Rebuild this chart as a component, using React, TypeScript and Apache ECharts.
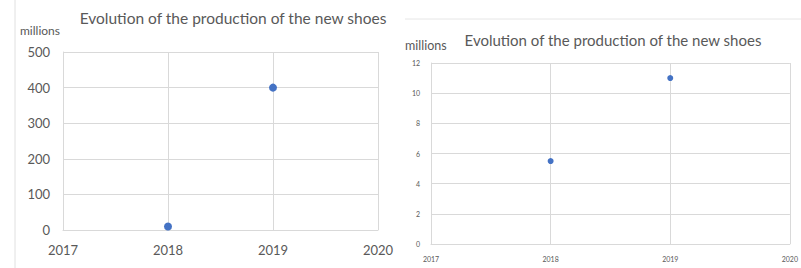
import React, { useEffect, useRef } from "react";
import * as echarts from "echarts";

const titleText = "Evolution of the production of the new shoes";
const unitText = "millions";
const years = [2018, 2019];
const leftValues = [10, 400];
const rightValues = [5.5, 11];

const FONT = "Lato, 'Open Sans', sans-serif";
const GREY = "#595959";
const GRID = "#d9d9d9";
const BLUE = "#4472c4";

export default function App() {
  const ref = useRef<HTMLDivElement>(null);
  useEffect(() => {
    if (!ref.current) return;
    const chart = echarts.init(ref.current, undefined, { renderer: "svg" });
    const axisCommon = (fs: number, margin: number) => ({
      axisLine: { show: true, lineStyle: { color: GRID } },
      axisTick: { show: false },
      splitLine: { show: true, lineStyle: { color: GRID, width: 1 } },
      axisLabel: {
        color: GREY,
        fontSize: fs,
        fontFamily: FONT,
        margin,
        formatter: (v: number) => String(v),
      },
    });
    chart.setOption({
      animation: false,
      backgroundColor: "#ffffff",
      grid: [
        { left: 63, top: 52, width: 315, height: 178 },
        { left: 431, top: 63, width: 366, height: 181 },
      ],
      xAxis: [
        { type: "value", gridIndex: 0, min: 2017, max: 2020, interval: 1, ...axisCommon(13, 13) },
        { type: "value", gridIndex: 1, min: 2017, max: 2020, interval: 1, ...axisCommon(7, 11) },
      ],
      yAxis: [
        { type: "value", gridIndex: 0, min: 0, max: 500, interval: 100, ...axisCommon(13, 13) },
        { type: "value", gridIndex: 1, min: 0, max: 12, interval: 2, ...axisCommon(7, 11) },
      ],
      series: [
        {
          type: "scatter",
          xAxisIndex: 0,
          yAxisIndex: 0,
          symbolSize: 8,
          itemStyle: { color: BLUE, opacity: 1 },
          data: years.map((y, i) => [y, leftValues[i]]),
        },
        {
          type: "scatter",
          xAxisIndex: 1,
          yAxisIndex: 1,
          symbolSize: 6,
          itemStyle: { color: BLUE, opacity: 1 },
          data: years.map((y, i) => [y, rightValues[i]]),
        },
      ],
      graphic: [
        { type: "line", shape: { x1: 15, y1: 0, x2: 15, y2: 268 }, style: { stroke: "#e0e0e0", lineWidth: 1 } },
        { type: "line", shape: { x1: 405, y1: 19, x2: 801, y2: 19 }, style: { stroke: "#e6e6e6", lineWidth: 1 } },
        {
          type: "text",
          x: 233,
          y: 18,
          style: { text: titleText, fill: GREY, font: `15.5px ${FONT}`, textAlign: "center", textVerticalAlign: "middle" },
        },
        {
          type: "text",
          x: 20,
          y: 30,
          style: { text: unitText, fill: GREY, font: `12px ${FONT}`, textAlign: "left", textVerticalAlign: "middle" },
        },
        {
          type: "text",
          x: 613,
          y: 40,
          style: { text: titleText, fill: GREY, font: `15px ${FONT}`, textAlign: "center", textVerticalAlign: "middle" },
        },
        {
          type: "text",
          x: 405,
          y: 45,
          style: { text: unitText, fill: GREY, font: `12.5px ${FONT}`, textAlign: "left", textVerticalAlign: "middle" },
        },
      ],
    });
    return () => chart.dispose();
  }, []);
  return (
    <div
      ref={ref}
      style={{ position: "fixed", left: 0, top: 0, width: 801, height: 268 }}
    />
  );
}
